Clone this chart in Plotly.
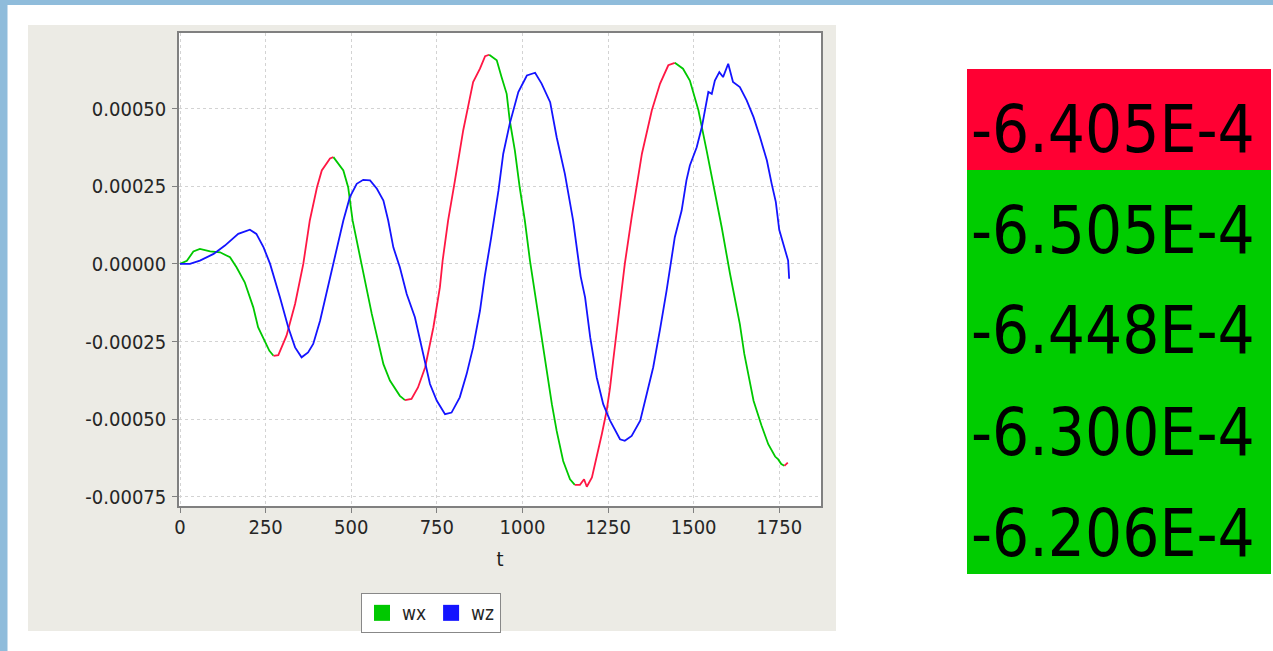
import plotly.graph_objects as go

W, H = 1273, 651

# ---------------- data ----------------
wx_t = [0, 20, 39, 58, 88, 117, 146, 165, 189, 214, 228, 261, 273, 287, 311, 336, 360, 379,
        400, 414, 438, 448, 477, 491, 504, 530, 560, 594, 613, 642, 657, 676, 695, 716, 740,
        759, 767, 783, 803, 827, 841, 856, 876, 891, 903, 925, 939, 954, 963, 978, 992, 1007,
        1022, 1042, 1056, 1071, 1086, 1100, 1119, 1139, 1153, 1168, 1180, 1188, 1203, 1217,
        1232, 1246, 1256, 1265, 1280, 1299, 1319, 1349, 1378, 1402, 1426, 1445, 1469, 1489,
        1514, 1538, 1562, 1582, 1606, 1619, 1635, 1648, 1675, 1698, 1718, 1738, 1747, 1756,
        1765, 1775]
wx = [0.0, 0.000010, 0.000040, 0.0000484, 0.0000406, 0.0000374, 0.0000213, -0.000011,
      -0.0000593, -0.000140, -0.000204, -0.000280, -0.000296, -0.000294, -0.000231, -0.000129,
      0.0, 0.000140, 0.000247, 0.000301, 0.000340, 0.000344, 0.000301, 0.000247, 0.000140,
      0.0, -0.000161, -0.000323, -0.000376, -0.000425, -0.000439, -0.000435, -0.000398,
      -0.000333, -0.000204, -0.000075, 0.000011, 0.000140, 0.000269, 0.000430, 0.000505,
      0.000586, 0.000629, 0.000669, 0.000674, 0.000656, 0.000602, 0.000548, 0.000462,
      0.000365, 0.000247, 0.000140, 0.0000106, -0.000129, -0.000237, -0.000344, -0.000452,
      -0.000538, -0.000635, -0.000694, -0.000712, -0.000712, -0.000694, -0.000718, -0.000688,
      -0.000624, -0.000548, -0.000473, -0.000398, -0.000312, -0.000172, 0.0, 0.000150,
      0.000355, 0.000495, 0.000581, 0.000640, 0.000648, 0.000629, 0.000591, 0.000495,
      0.000365, 0.000236, 0.000118, -0.000030, -0.000100, -0.000194, -0.000290, -0.000441,
      -0.000520, -0.000581, -0.0006206, -0.0006300, -0.0006448, -0.0006505, -0.0006405]

wz_t = [0, 29, 58, 98, 131, 170, 204, 223, 244, 263, 292, 316, 336, 355, 374, 389, 409, 429,
        448, 462, 477, 496, 516, 535, 555, 575, 594, 608, 623, 642, 662, 686, 711, 730, 750,
        774, 793, 817, 837, 856, 876, 890, 908, 930, 944, 963, 988, 1013, 1037, 1056, 1081,
        1100, 1124, 1148, 1170, 1183, 1198, 1217, 1236, 1256, 1285, 1299, 1319, 1344, 1363,
        1382, 1402, 1421, 1445, 1465, 1479, 1489, 1509, 1524, 1543, 1553, 1562, 1575, 1586,
        1601, 1615, 1635, 1655, 1675, 1694, 1714, 1728, 1740, 1750, 1767, 1776, 1779]
wz = [0.0, 0.0, 0.0000107, 0.0000323, 0.000059, 0.0000968, 0.000110, 0.0000968, 0.0000535,
      0.0, -0.000108, -0.000204, -0.000269, -0.000301, -0.000285, -0.000258, -0.000183,
      -0.000086, 0.0, 0.000075, 0.000140, 0.000215, 0.000258, 0.000271, 0.000269, 0.000242,
      0.000204, 0.000140, 0.0000535, -0.000011, -0.0000968, -0.000172, -0.000290, -0.000387,
      -0.000441, -0.000484, -0.000479, -0.000430, -0.000355, -0.000269, -0.000151, -0.000040,
      0.000080, 0.000236, 0.000355, 0.000452, 0.000554, 0.000607, 0.000616, 0.000581,
      0.000521, 0.000408, 0.000290, 0.000140, -0.000040, -0.000108, -0.000237, -0.000366,
      -0.000452, -0.000505, -0.000565, -0.000570, -0.000554, -0.000505, -0.000419, -0.000333,
      -0.000210, -0.000086, 0.000086, 0.000172, 0.000269, 0.000317, 0.000376, 0.000441,
      0.000554, 0.000548, 0.000591, 0.000618, 0.000602, 0.000645, 0.000586, 0.000570,
      0.000527, 0.000473, 0.000408, 0.000333, 0.000258, 0.000200, 0.000110, 0.000050,
      0.0000106, -0.000048]

# t values where the wx line changes colour (falling = green, rising = red)
wx_colour_breaks = [0, 273, 448, 657, 903, 1153, 1445, 1765, 1775]

x_tick_vals = [0, 250, 500, 750, 1000, 1250, 1500, 1750]
x_tick_text = ["0", "250", "500", "750", "1000", "1250", "1500", "1750"]
y_tick_vals = [-0.00075, -0.0005, -0.00025, 0.0, 0.00025, 0.0005]
y_tick_text = ["-0.00075", "-0.00050", "-0.00025", "0.00000", "0.00025", "0.00050"]
recent_count = 5

# ---------------- style ----------------
FONT = "DejaVu Sans Condensed, Liberation Sans Narrow, DejaVu Sans, sans-serif"
GREEN = "#00C800"
RED = "#FF1744"
BLUE = "#1414FF"
BOX_RED = "#FF0033"
BOX_GREEN = "#00CC00"
PANEL = "#ECEBE5"
FRAME = "#8FBCDB"
TXT = "#262626"


def px(x):
    return x / W


def py(y):
    return 1 - y / H


fig = go.Figure()

# wx drawn in coloured pieces
for i in range(len(wx_colour_breaks) - 1):
    a, b = wx_colour_breaks[i], wx_colour_breaks[i + 1]
    idx = [k for k, t in enumerate(wx_t) if a <= t <= b]
    fig.add_trace(go.Scatter(
        x=[wx_t[k] for k in idx], y=[wx[k] for k in idx], mode="lines",
        line=dict(color=GREEN if i % 2 == 0 else RED, width=1.8),
        showlegend=False, hoverinfo="skip"))

fig.add_trace(go.Scatter(x=wz_t, y=wz, mode="lines", line=dict(color=BLUE, width=1.8),
                         showlegend=False, hoverinfo="skip"))

# legend entries (square swatches)
fig.add_trace(go.Scatter(x=[None], y=[None], mode="markers", name="wx",
                         marker=dict(symbol="square", size=16, color=GREEN)))
fig.add_trace(go.Scatter(x=[None], y=[None], mode="markers", name="wz",
                         marker=dict(symbol="square", size=16, color=BLUE)))

shapes = [
    dict(type="rect", xref="paper", yref="paper", x0=0, x1=px(7.5), y0=0, y1=1,
         fillcolor=FRAME, line=dict(width=0), layer="below"),
    dict(type="rect", xref="paper", yref="paper", x0=0, x1=1, y0=py(5), y1=1,
         fillcolor=FRAME, line=dict(width=0), layer="below"),
    dict(type="rect", xref="paper", yref="paper", x0=px(28), x1=px(836), y0=py(631), y1=py(25),
         fillcolor=PANEL, line=dict(width=0), layer="below"),
    dict(type="rect", xref="paper", yref="paper", x0=px(179), x1=px(821), y0=py(506), y1=py(33),
         fillcolor="white", line=dict(width=0), layer="below"),
]

annotations = []
recent = wx[::-1][:recent_count]
older = wx[::-1][1:recent_count + 1]
box_top, box_h = 69, 101
for j, (v, prev) in enumerate(zip(recent, older)):
    y0 = box_top + j * box_h
    y1 = y0 + box_h + (1 if j < recent_count - 1 else 0)
    shapes.append(dict(type="rect", xref="paper", yref="paper", x0=px(967), x1=px(1271),
                       y0=py(y1), y1=py(y0),
                       fillcolor=BOX_RED if v > prev else BOX_GREEN,
                       line=dict(width=0), layer="below"))
    annotations.append(dict(xref="paper", yref="paper", x=px(969), y=py(y0 + 60),
                            xanchor="left", yanchor="middle", showarrow=False,
                            text=f"{v * 1e4:.3f}E-4",
                            font=dict(family=FONT, size=65, color="black")))

fig.update_layout(
    width=W, height=H,
    margin=dict(l=0, r=0, t=0, b=0, pad=0),
    paper_bgcolor="white", plot_bgcolor="white",
    shapes=shapes, annotations=annotations,
    font=dict(family=FONT, size=20, color=TXT),
    xaxis=dict(domain=[px(179), px(821)], range=[-3, 1872],
               tickvals=x_tick_vals, ticktext=x_tick_text,
               showgrid=True, gridcolor="#D3D3D3", griddash="3px,3px", gridwidth=1,
               zeroline=False, showline=True, linecolor="#808080", linewidth=1.5, mirror=True,
               ticks="outside", ticklen=5, tickcolor="#808080", ticklabelstandoff=-3,
               tickfont=dict(family=FONT, size=20, color=TXT),
               title=dict(text="t", font=dict(family=FONT, size=20, color="#1a1a1a"), standoff=14),
               automargin=False),
    yaxis=dict(domain=[py(506), py(33)], range=[-0.00078, 0.000744],
               tickvals=y_tick_vals, ticktext=y_tick_text,
               showgrid=True, gridcolor="#D3D3D3", griddash="3px,3px", gridwidth=1,
               zeroline=False, showline=True, linecolor="#808080", linewidth=1.5, mirror=True,
               ticks="outside", ticklen=5, tickcolor="#808080", ticklabelstandoff=2,
               tickfont=dict(family=FONT, size=20, color=TXT),
               automargin=False),
    legend=dict(orientation="h", x=px(431), xanchor="center", y=py(593), yanchor="top",
                bgcolor="white", bordercolor="#888888", borderwidth=1,
                font=dict(family=FONT, size=19, color=TXT), itemwidth=30),
    showlegend=True,
)

fig.write_html("out.html", config={"displayModeBar": False},
               post_script="document.body.style.margin='0';")
